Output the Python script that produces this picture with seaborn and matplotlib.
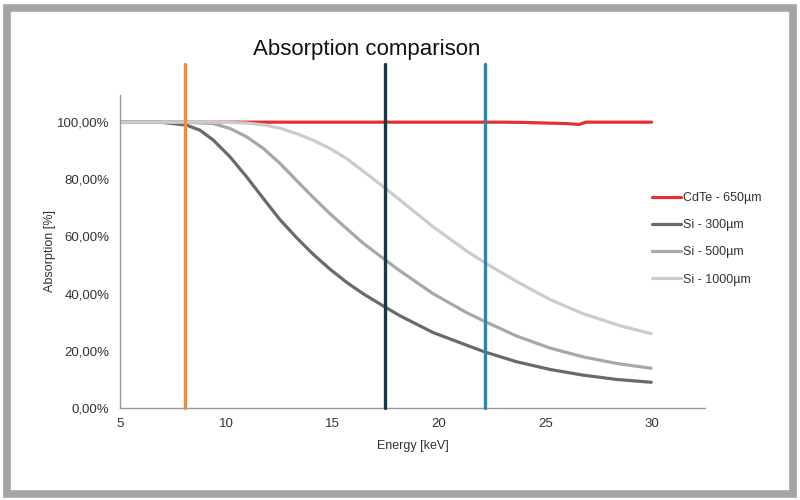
import pandas as pd
import matplotlib
matplotlib.use("Agg")
import matplotlib.pyplot as plt
import seaborn as sns
from matplotlib.patches import Rectangle
from matplotlib.ticker import FuncFormatter

# data (energy in keV, absorption in %)
si_300_energy = [5, 7, 8.13, 8.76, 9.39, 10.17, 10.95, 11.74, 12.52, 13.30, 14.08, 14.87,
                 15.65, 16.43, 17.49, 18.16, 19.72, 21.29, 22.12, 23.64, 25.21, 26.77, 28.34, 29.98]
si_300 = [100, 99.9, 98.95, 97.2, 93.7, 87.9, 80.9, 73.3, 65.9, 59.6, 53.8, 48.6,
          44.0, 40.0, 35.2, 32.3, 26.4, 22.0, 19.7, 16.2, 13.5, 11.5, 10.0, 9.0]

si_500_energy = [5, 8, 9.39, 10.17, 10.95, 11.74, 12.52, 13.30, 14.08, 14.87, 15.65, 16.43,
                 17.49, 18.16, 19.72, 21.29, 22.12, 23.64, 25.21, 26.77, 28.34, 29.98]
si_500 = [100, 100, 99.5, 97.8, 94.9, 90.8, 85.6, 79.6, 73.7, 68.0, 62.8, 57.7,
          51.7, 48.0, 40.0, 33.4, 30.4, 25.2, 21.0, 17.9, 15.6, 13.9]

si_1000_energy = [5, 9.5, 10.95, 11.8, 12.52, 13.30, 14.08, 14.87, 15.65, 16.43, 17.49, 18.16,
                  19.72, 21.29, 22.12, 23.64, 25.21, 26.7, 28.5, 29.98]
si_1000 = [100, 100, 99.7, 99.0, 97.9, 96.0, 93.7, 90.8, 87.3, 82.9, 76.8, 72.8,
           63.4, 55.0, 51.0, 44.3, 38.0, 33.2, 28.8, 26.0]

cdte_energy = [5, 10, 15, 20, 23, 24, 25, 26, 26.6, 26.9, 28, 30]
cdte_650 = [100, 100, 100, 100, 100, 99.9, 99.7, 99.5, 99.2, 100, 100, 100]

labels = ["CdTe - 650µm", "Si - 300µm", "Si - 500µm", "Si - 1000µm"]
colors = ["#E3312F", "#696A6D", "#A6A8AA", "#CBCCCD"]

# x-ray lines (Cu, Mo, Ag K-alpha)
line_energies = [8.04, 17.48, 22.16]
line_colors = ["#F28B3B", "#0F3B4A", "#2A88AE"]

series = [(cdte_energy, cdte_650), (si_300_energy, si_300),
          (si_500_energy, si_500), (si_1000_energy, si_1000)]
df = pd.concat([pd.DataFrame({"energy": e, "absorption": a, "sensor": lab})
                for lab, (e, a) in zip(labels, series)], ignore_index=True)

sns.set_theme(style="white")
plt.rcParams["font.family"] = ["Liberation Sans", "DejaVu Sans"]

fig = plt.figure(figsize=(8, 5), dpi=100)
ax = fig.add_axes([0.15, 0.184, 0.731, 0.626])

sns.lineplot(data=df, x="energy", y="absorption", hue="sensor", hue_order=labels,
             palette=dict(zip(labels, colors)), linewidth=2.3, sort=False,
             legend=False, ax=ax)
curve_lines = list(ax.lines[:4])
for ln in curve_lines:
    ln.set_solid_joinstyle("round")

for e, c in zip(line_energies, line_colors):
    ax.axvline(e, ymin=0, ymax=1.1, color=c, linewidth=2.4, clip_on=False, zorder=5)

ax.set_xlim(5, 32.5)
ax.set_ylim(0, 109.5)
ax.set_xticks([5, 10, 15, 20, 25, 30])
ax.set_yticks([0, 20, 40, 60, 80, 100])
ax.yaxis.set_major_formatter(FuncFormatter(lambda v, p: f"{v:.2f}".replace(".", ",") + "%"))

for side in ["top", "right"]:
    ax.spines[side].set_visible(False)
for side in ["left", "bottom"]:
    ax.spines[side].set_color("#9A9A9A")
    ax.spines[side].set_linewidth(1.0)
ax.tick_params(axis="both", direction="out", length=5, width=1, color="#9A9A9A",
               labelsize=9.5, labelcolor="#333333", pad=2.5)
ax.set_xlabel("Energy [keV]", fontsize=9, color="#333333", labelpad=7)
ax.set_ylabel("Absorption [%]", fontsize=9, color="#333333", labelpad=1)

fig.text(0.458, 0.89, "Absorption comparison", ha="center", va="baseline",
         fontsize=16, color="#111111")

ax.legend(curve_lines, labels, loc="upper left", bbox_to_anchor=(0.815, 0.616),
          bbox_transform=fig.transFigure, frameon=False, fontsize=9,
          handlelength=2.3, handletextpad=0.2, labelspacing=1.22,
          borderpad=0, borderaxespad=0, labelcolor="#333333")

# grey frame around the whole picture
fig.patches.append(Rectangle((0.009, 0.013), 0.982, 0.972, transform=fig.transFigure,
                             fill=False, edgecolor="#A4A4A4", linewidth=5.5))

fig.savefig("out.png", dpi=100)
